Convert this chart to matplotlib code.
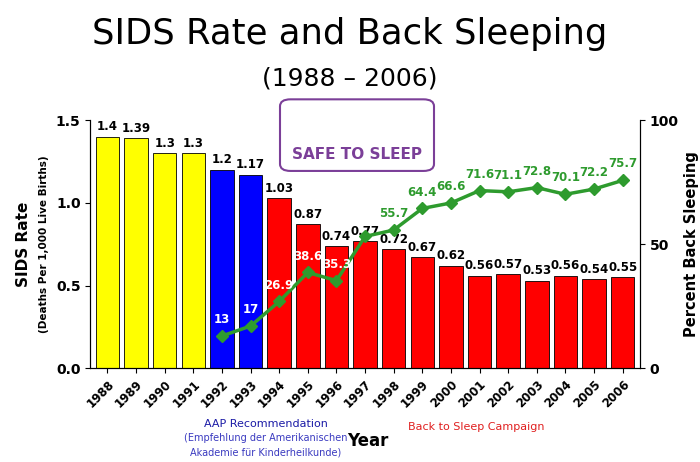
import matplotlib
matplotlib.use("Agg")
import matplotlib.pyplot as plt
from matplotlib.patches import FancyBboxPatch

years = [str(y) for y in range(1988, 2007)]
sids_rate = [1.4, 1.39, 1.3, 1.3, 1.2, 1.17, 1.03, 0.87, 0.74, 0.77, 0.72, 0.67, 0.62, 0.56, 0.57, 0.53, 0.56, 0.54, 0.55]
sids_labels = ["1.4", "1.39", "1.3", "1.3", "1.2", "1.17", "1.03", "0.87", "0.74", "0.77", "0.72", "0.67", "0.62", "0.56", "0.57", "0.53", "0.56", "0.54", "0.55"]
back_years = [str(y) for y in range(1992, 2007)]
back_pct = [13, 17, 26.9, 38.6, 35.3, 53.1, 55.7, 64.4, 66.6, 71.6, 71.1, 72.8, 70.1, 72.2, 75.7]
back_labels = ["13", "17", "26.9", "38.6", "35.3", "53.1", "55.7", "64.4", "66.6", "71.6", "71.1", "72.8", "70.1", "72.2", "75.7"]

fig = plt.figure(figsize=(7, 4.62), dpi=100)
ax = fig.add_axes([0.129, 0.203, 0.785, 0.537])
x = list(range(len(years)))
colors = ["#ffff00"] * 4 + ["#0000ff"] * 2 + ["#ff0000"] * 13
ax.bar(x, sids_rate, width=0.82, color=colors, edgecolor="black", linewidth=0.6)
for i, (v, l) in enumerate(zip(sids_rate, sids_labels)):
    ax.text(i, v + 0.02, l, ha="center", va="bottom", fontsize=8.5, fontweight="bold")
ax.set_ylim(0, 1.5)
ax.set_xlim(-0.6, len(years) - 0.4)
ax.set_yticks([0, 0.5, 1.0, 1.5])
ax.set_yticklabels(["0.0", "0.5", "1.0", "1.5"], fontsize=10, fontweight="bold")
ax.set_xticks(x)
ax.set_xticklabels(years, rotation=45, ha="right", rotation_mode="anchor", fontsize=8.5, fontweight="bold")
ax.set_ylabel("SIDS Rate", fontsize=11, fontweight="bold", labelpad=18)
ax.text(-0.085, 0.5, "(Deaths Per 1,000 Live Births)", transform=ax.transAxes, rotation=90,
        ha="center", va="center", fontsize=7.5, fontweight="bold")
ax.spines["top"].set_visible(False)

ax2 = ax.twinx()
bx = [years.index(y) for y in back_years]
ax2.plot(bx, back_pct, color="#2e9b2e", lw=2.5, marker="D", ms=6)
ax2.set_ylim(0, 100)
ax2.set_yticks([0, 50, 100])
ax2.set_yticklabels(["0", "50", "100"], fontsize=10, fontweight="bold")
ax2.set_ylabel("Percent Back Sleeping", fontsize=10.5, fontweight="bold")
ax2.spines["top"].set_visible(False)
for i, (xi, v, l) in enumerate(zip(bx, back_pct, back_labels)):
    c = "white" if i < 6 else "#2e9b2e"
    ax2.text(xi, v + 4, l, ha="center", va="bottom", fontsize=8.5, fontweight="bold", color=c)

fig.text(0.5, 0.905, "SIDS Rate and Back Sleeping", ha="center", fontsize=25.5)
fig.text(0.5, 0.815, "(1988 \u2013 2006)", ha="center", fontsize=18)
box = FancyBboxPatch((0.405, 0.635), 0.21, 0.145, boxstyle="round,pad=0.005,rounding_size=0.015",
                     transform=fig.transFigure, facecolor="white", edgecolor="#7b3f98", lw=1.5)
fig.patches.append(box)
fig.text(0.51, 0.655, "SAFE TO SLEEP", ha="center", fontsize=11, fontweight="bold", color="#7b3f98")
fig.text(0.525, 0.035, "Year", ha="center", fontsize=12, fontweight="bold")
fig.text(0.38, 0.075, "AAP Recommendation", ha="center", fontsize=8, color="#1a1aa6")
fig.text(0.38, 0.045, "(Empfehlung der Amerikanischen", ha="center", fontsize=7, color="#3a3ac0")
fig.text(0.38, 0.015, "Akademie f\u00fcr Kinderheilkunde)", ha="center", fontsize=7, color="#3a3ac0")
fig.text(0.68, 0.07, "Back to Sleep Campaign", ha="center", fontsize=8, color="#e02020")
fig.savefig("out.png", dpi=100)
